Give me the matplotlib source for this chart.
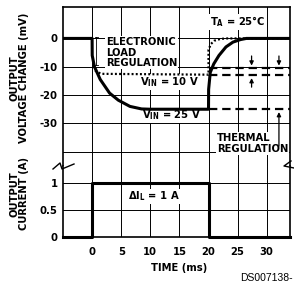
import matplotlib
matplotlib.use("Agg")
import matplotlib.pyplot as plt
from matplotlib.lines import Line2D

# condensed bold face, close to the Helvetica Condensed of the datasheet
plt.rcParams["font.family"] = ["DejaVu Sans"]
plt.rcParams["font.stretch"] = "condensed"
plt.rcParams["font.weight"] = "bold"
plt.rcParams["axes.labelweight"] = "bold"
plt.rcParams["mathtext.fontset"] = "custom"
for k in ("rm", "it", "bf"):
    plt.rcParams["mathtext." + k] = "DejaVu Sans:weight=bold:stretch=condensed"
plt.rcParams["lines.scale_dashes"] = False

# ---- data ----
time_ticks = [0, 5, 10, 15, 20, 25, 30]
volt_grid = [0, -10, -20, -30, -40]
volt_labels = ["0", "-10", "-20", "-30", ""]
curr_ticks = [0, 0.5, 1]
curr_labels = ["0", "0.5", "1"]

# V_IN = 25 V response (solid)
t_25v = [-5, 0, 0.02, 0.4, 1.4, 3, 4.5, 6.5, 8.5, 10, 20, 20.02, 20.3, 20.9, 21.8, 23, 24.2, 25.5, 26.5, 34]
v_25v = [0, 0, -6, -10, -14.5, -19.3, -21.8, -24, -24.9, -25, -25, -18, -12, -9, -6, -3, -1.3, -0.4, 0, 0]

# V_IN = 10 V response (dotted)
t_10v = [0.5, 1.5, 20, 20, 20.4, 21, 22, 23, 34]
v_10v = [-11.3, -12.5, -12.8, -4, -2, -0.8, -0.2, 0, 0]

# thermal regulation levels (dashed)
therm_level = [-10.3, -12.8, -25]
therm_start = [20.0, 20.0, 20.0]
therm_end = 34

# load current step
t_cur = [-5, 0, 0, 20, 20, 34]
i_cur = [0, 0, 1, 1, 0, 0]

W, H = 294, 293
fig = plt.figure(figsize=(W / 100, H / 100), dpi=100)


def fx(px):
    return px / W


def fy(py):
    return 1 - py / H


left, right = 63, 290
ax_v = fig.add_axes([fx(left), fy(166), fx(right) - fx(left), fy(7) - fy(166)])
ax_i = fig.add_axes([fx(left), fy(237), fx(right) - fx(left), fy(166) - fy(237)])

ax_v.set_xlim(-5, 34)
ax_i.set_xlim(-5, 34)
ax_v.set_ylim(-45.05, 11.1)
ax_i.set_ylim(0, 1.303)

for ax in (ax_v, ax_i):
    ax.set_xticks(time_ticks)
    ax.grid(True, color="black", lw=0.7)
    ax.tick_params(length=0, labelsize=8, pad=4)
    for s in ax.spines.values():
        s.set_linewidth(1.2)

ax_v.spines["bottom"].set_visible(False)
ax_i.spines["top"].set_visible(False)
ax_v.tick_params(labelbottom=False)
ax_v.set_yticks(volt_grid)
ax_v.set_yticklabels(volt_labels)
ax_i.set_yticks(curr_ticks)
ax_i.set_yticklabels(curr_labels)
ax_i.set_xticklabels([str(t) for t in time_ticks])
ax_i.tick_params(axis="x", pad=7)
ax_i.set_xlabel("TIME (ms)", fontsize=8, fontweight="bold")
ax_i.xaxis.set_label_coords((179 - left) / (right - left), -0.36)

# curves
ax_v.plot(t_25v, v_25v, color="black", lw=2.2, zorder=5)
ax_v.plot(t_10v, v_10v, color="black", lw=1.6, ls=(0, (1.4, 1.6)), zorder=4)
for lvl, t0 in zip(therm_level, therm_start):
    ax_v.plot([t0, therm_end], [lvl, lvl], color="black", lw=1.6,
              ls=(0, (6, 3.5)), clip_on=False, zorder=4)
ax_i.plot(t_cur, i_cur, color="black", lw=2.2, clip_on=False, zorder=5)

box = dict(facecolor="white", edgecolor="none", pad=0.6)

ax_v.text(2.4, -5.0, "ELECTRONIC\nLOAD\nREGULATION", fontsize=8, ha="left",
          va="center", linespacing=1.1, bbox=box, zorder=3)
ax_v.plot([0.75, 0.75], [0.4, -9.4], color="black", lw=0.6, zorder=6)
ax_v.plot([0.45, 1.05], [0.4, 0.4], color="black", lw=0.6, zorder=6)
ax_v.plot([0.45, 1.05], [-9.4, -9.4], color="black", lw=0.6, zorder=6)

ax_v.text(8.2, -15.4, r"V$_{\rm IN}$ = 10 V", fontsize=8, ha="left",
          va="center", bbox=box, zorder=3)
ax_v.text(8.6, -27.2, r"V$_{\rm IN}$ = 25 V", fontsize=8, ha="left",
          va="center", bbox=box, zorder=3)
ax_v.text(20.2, 5.8, r"T$_{\rm A}$ = 25$\degree$C", fontsize=8, ha="left",
          va="center", bbox=box, zorder=3)
ax_v.text(21.4, -37.1, "THERMAL\nREGULATION", fontsize=8, ha="left",
          va="center", linespacing=1.15, bbox=box, zorder=3)
ax_i.text(6.2, 0.743, r"$\Delta$I$_{\rm L}$ = 1 A", fontsize=8, ha="left",
          va="center", bbox=box, zorder=3)

arrows = [(27.4, -6.2, -9.6), (27.4, -17.2, -14.0),
          (32.1, -6.2, -9.6), (32.1, -38.0, -26.0)]
for t, y0, y1 in arrows:
    ax_v.annotate("", xy=(t, y1), xytext=(t, y0),
                  arrowprops=dict(arrowstyle="-|>", color="black", lw=0.9,
                                  mutation_scale=6, shrinkA=0, shrinkB=0),
                  zorder=7)

# axis titles
fig.text(fx(19.5), fy(78), "OUTPUT\nVOLTAGE CHANGE (mV)", rotation=90,
         fontsize=8, ha="center", va="center", linespacing=0.95)
fig.text(fx(19), fy(194), "OUTPUT\nCURRENT (A)", rotation=90,
         fontsize=8, ha="center", va="center", linespacing=0.95)

# break marks
brk_l = [(53, 169), (60, 163), (62, 169), (74, 164)]
brk_r = [(291, 161), (284, 166), (294, 168)]
for pts in (brk_l, brk_r):
    fig.add_artist(Line2D([fx(p[0]) for p in pts], [fy(p[1]) for p in pts],
                          color="black", lw=1.0))

fig.text(fx(293), fy(278), "DS007138-", fontsize=7.5, ha="right", va="center",
         family=["Liberation Sans", "DejaVu Sans"], weight="normal", stretch="normal")

fig.savefig("out.png", dpi=100)
